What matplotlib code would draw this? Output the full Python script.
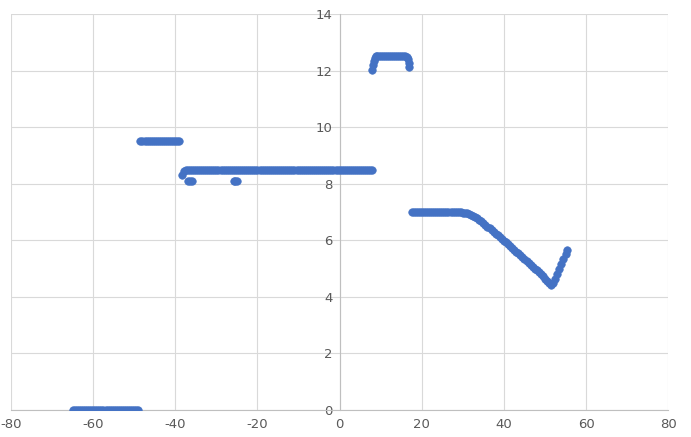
import matplotlib
matplotlib.use("Agg")
from matplotlib import pyplot as plt

plt.rcParams["axes.unicode_minus"] = False

# y = 0 run
x_zero = [-65, -64.5, -64, -63.5, -63, -62.5, -62, -61.5, -61, -60.5, -60, -59.5, -59, -58.5,
          -58, -57.5, -57, -56.5, -56, -55.5, -55, -54.5, -54, -53.5, -53, -52.5, -52, -51.5,
          -51, -50.5, -50, -49.5, -49]
y_zero = [0] * len(x_zero)

# y = 9.5 run
x_high = [-48.5, -48, -47.5, -47, -46.5, -46, -45.5, -45, -44.5, -44, -43.5, -43, -42.5, -42,
          -41.5, -41, -40.5, -40, -39.5, -39]
y_high = [9.5] * len(x_high)

# 8.5 run, first two points a bit lower
x_mid = [-38.5, -38, -37.5, -37, -36.5, -36, -35.5, -35, -34.5, -34, -33.5, -33, -32.5, -32,
         -31.5, -31, -30.5, -30, -29.5, -29, -28.5, -28, -27.5, -27, -26.5, -26, -25.5, -25,
         -24.5, -24, -23.5, -23, -22.5, -22, -21.5, -21, -20.5, -20, -19.5, -19, -18.5, -18,
         -17.5, -17, -16.5, -16, -15.5, -15, -14.5, -14, -13.5, -13, -12.5, -12, -11.5, -11,
         -10.5, -10, -9.5, -9, -8.5, -8, -7.5, -7, -6.5, -6, -5.5, -5, -4.5, -4, -3.5, -3,
         -2.5, -2, -1.5, -1, -0.5, 0, 0.5, 1, 1.5, 2, 2.5, 3, 3.5, 4, 4.5, 5, 5.5, 6, 6.5, 7,
         7.5, 8]
y_mid = [8.3, 8.45] + [8.5] * (len(x_mid) - 2)

# stray low points under the 8.5 run
x_dip = [-37, -36.5, -36, -25.8, -25.4, -25]
y_dip = [8.1, 8.1, 8.1, 8.1, 8.1, 8.1]

# 12.5 plateau
x_top = [8, 8.2, 8.4, 8.6, 8.8, 9, 9.5, 10, 10.5, 11, 11.5, 12, 12.5, 13, 13.5, 14, 14.5, 15,
         15.5, 16, 16.3, 16.6, 16.8, 17]
y_top = [12.02, 12.2, 12.35, 12.45, 12.5, 12.5, 12.5, 12.5, 12.5, 12.5, 12.5, 12.5, 12.5, 12.5,
         12.5, 12.5, 12.5, 12.5, 12.5, 12.5, 12.47, 12.4, 12.28, 12.12]

# 7.0 shelf, then the decline and the final rise
x_tail = [17.5, 18, 18.5, 19, 19.5, 20, 20.5, 21, 21.5, 22, 22.5, 23, 23.5, 24, 24.5, 25, 25.5,
          26, 26.5, 27, 27.5, 28, 28.5, 29, 29.5, 30, 30.5, 31, 31.5, 32, 32.5, 33, 33.5, 34,
          34.5, 35, 35.5, 36, 36.5, 37, 37.5, 38, 38.5, 39, 39.5, 40, 40.5, 41, 41.5, 42, 42.5,
          43, 43.5, 44, 44.5, 45, 45.5, 46, 46.5, 47, 47.5, 48, 48.5, 49, 49.5, 50, 50.5, 51,
          51.5, 52, 52.5, 53, 53.5, 54, 54.5, 55, 55.3]
y_tail = [7.0, 7.0, 7.0, 7.0, 7.0, 7.0, 7.0, 7.0, 7.0, 7.0, 7.0, 7.0, 7.0, 7.0, 7.0, 7.0, 7.0,
          7.0, 7.0, 7.0, 7.0, 7.0, 7.0, 7.0, 7.0, 6.98, 6.97, 6.95, 6.92, 6.89, 6.85, 6.81, 6.77,
          6.72, 6.67, 6.61, 6.55, 6.48, 6.42, 6.36, 6.3, 6.23, 6.17, 6.11, 6.05, 5.98, 5.92,
          5.86, 5.8, 5.73, 5.67, 5.6, 5.54, 5.47, 5.41, 5.34, 5.28, 5.21, 5.14, 5.07, 5.0, 4.93,
          4.86, 4.79, 4.72, 4.64, 4.56, 4.47, 4.42, 4.48, 4.62, 4.8, 4.98, 5.17, 5.35, 5.52,
          5.65]

xs = x_zero + x_high + x_mid + x_dip + x_top + x_tail
ys = y_zero + y_high + y_mid + y_dip + y_top + y_tail

fig = plt.figure(figsize=(6.91, 4.37), dpi=100)
ax = fig.add_axes([0.016, 0.062, 0.951, 0.906])

ax.plot(xs, ys, linestyle="none", marker="o", markersize=5.4, color="#4472C4",
        markeredgecolor="#4472C4", markeredgewidth=0.5, snap=False, zorder=3)

ax.set_xlim(-80, 80)
ax.set_ylim(0, 14)
ax.set_xticks(range(-80, 81, 20))
ax.set_yticks(range(0, 15, 2))
ax.grid(True, color="#d9d9d9", linewidth=0.8)
ax.set_axisbelow(True)

for side in ["top", "right"]:
    ax.spines[side].set_visible(False)
ax.spines["left"].set_position(("data", 0))
ax.spines["left"].set_color("#bfbfbf")
ax.spines["bottom"].set_color("#bfbfbf")
ax.tick_params(length=0, labelcolor="#595959", labelsize=9.5)
ax.tick_params(axis="x", pad=6)
ax.tick_params(axis="y", pad=5)

fig.savefig("out.png", dpi=100)
